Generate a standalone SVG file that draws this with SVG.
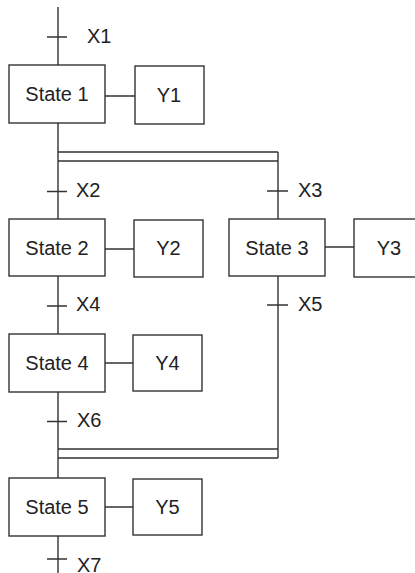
<svg xmlns="http://www.w3.org/2000/svg" width="415" height="573" viewBox="0 0 415 573">
<style>
.box{fill:#fff;stroke:#333;stroke-width:1.4}
.ln{stroke:#333;stroke-width:1.4;fill:none}
text{font-family:"Liberation Sans",Arial,sans-serif;font-size:20px;fill:#222}
.c{text-anchor:middle}
</style>
<rect width="415" height="573" fill="#fff"/>
<g id="connectors" class="ln">
<path d="M58 7V65M58 123V219M58 276V334M58 392V478M58 536V573"/>
<path d="M278 152V219M278 276V458"/>
<path d="M58 152H278M58 161H278M58 449H278M58 458H278"/>
<path d="M105 96H135M105 249H134M325 247H354M105 363H133M105 507H133"/>
<path d="M47 37H67M47 191.5H67M267 191H288M47 306H67M267 305H288M47 421.5H67M47 559H67"/>
</g>
<g id="labels">
<text x="87" y="43">X1</text>
<text x="76" y="197">X2</text>
<text x="298" y="197">X3</text>
<text x="76" y="311">X4</text>
<text x="298" y="311">X5</text>
<text x="77" y="427">X6</text>
<text x="77" y="572">X7</text>
</g>
<g id="state1"><rect class="box" x="9" y="65" width="96" height="58"/><text class="c" x="57" y="101">State 1</text></g>
<g id="y1"><rect class="box" x="135" y="66" width="69" height="58"/><text class="c" x="169" y="102">Y1</text></g>
<g id="state2"><rect class="box" x="9" y="219" width="96" height="57"/><text class="c" x="57" y="254.5">State 2</text></g>
<g id="y2"><rect class="box" x="134" y="220" width="69" height="57"/><text class="c" x="168.5" y="255">Y2</text></g>
<g id="state3"><rect class="box" x="229" y="219" width="96" height="57"/><text class="c" x="277" y="254.5">State 3</text></g>
<g id="y3"><rect class="box" x="354" y="219" width="69" height="58"/><text class="c" x="389" y="255">Y3</text></g>
<g id="state4"><rect class="box" x="9" y="334" width="96" height="58"/><text class="c" x="57" y="370">State 4</text></g>
<g id="y4"><rect class="box" x="133" y="335" width="69" height="56"/><text class="c" x="167.5" y="370">Y4</text></g>
<g id="state5"><rect class="box" x="9" y="478" width="96" height="58"/><text class="c" x="57" y="514">State 5</text></g>
<g id="y5"><rect class="box" x="133" y="479" width="69" height="56"/><text class="c" x="167.5" y="514">Y5</text></g>
</svg>
